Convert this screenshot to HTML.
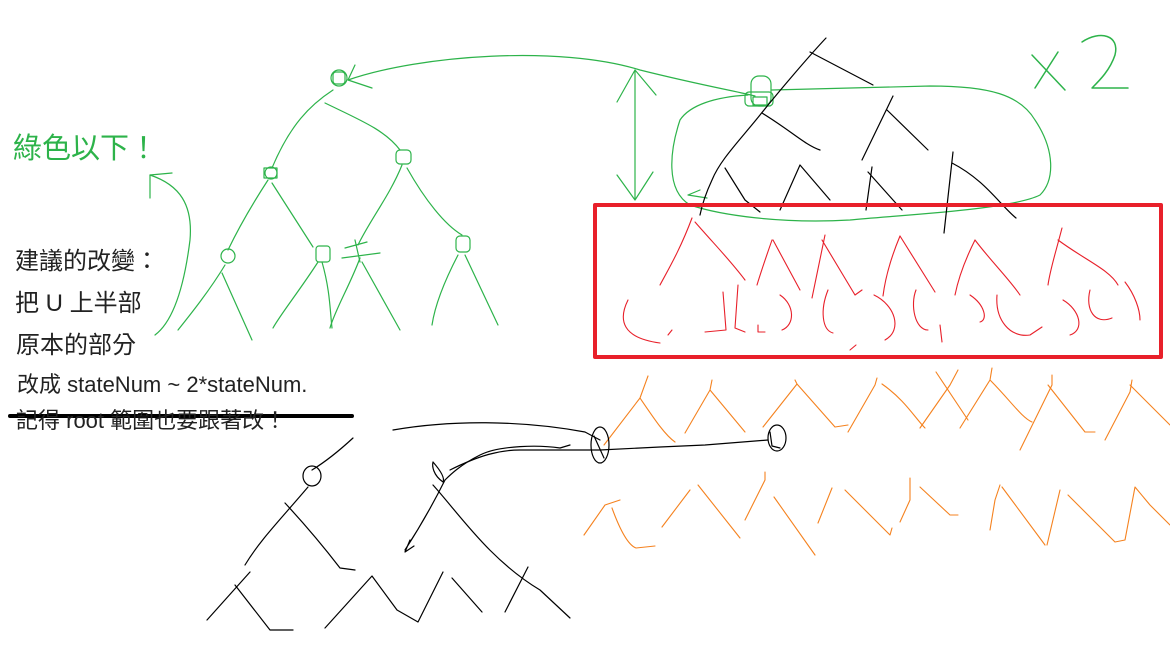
<!DOCTYPE html>
<html><head><meta charset="utf-8"><style>
html,body{margin:0;padding:0;background:#fff;width:1170px;height:649px;overflow:hidden}
.t{position:absolute;font-family:"Liberation Sans","Noto Sans CJK TC",sans-serif;color:#222;white-space:nowrap}
</style></head><body>
<svg width="1170" height="649" style="position:absolute;left:0;top:0" fill="none" stroke-linecap="round" stroke-linejoin="round">
<!-- green tree -->
<g stroke="#2db34a" stroke-width="1.2">
<circle cx="339" cy="78" r="8"/><rect x="333" y="72" width="12" height="12" rx="3"/>
<path d="M348,80 C420,55 560,45 640,70 C700,85 740,92 755,96"/>
<path d="M348,80 L355,65 M348,80 L372,88"/>
<path d="M333,90 C310,105 290,125 272,168"/>
<path d="M325,103 C360,120 385,130 400,150"/>
<circle cx="271" cy="173" r="6"/><rect x="264" y="168" width="13" height="10"/>
<rect x="396" y="150" width="15" height="14" rx="4"/>
<path d="M268,180 C255,200 240,225 228,250"/><path d="M272,183 L313,247"/>
<path d="M402,165 C390,195 370,220 358,245"/><path d="M407,168 C425,200 445,225 462,235"/>
<circle cx="228" cy="256" r="7"/>
<rect x="316" y="246" width="14" height="16" rx="3"/>
<path d="M345,248 L367,242 M355,240 L360,262 M342,258 L380,253"/>
<rect x="456" y="236" width="14" height="16" rx="4"/>
<path d="M225,265 C210,290 190,315 178,330 M222,273 L252,340"/>
<path d="M318,262 C300,290 280,315 273,328 M322,262 C330,290 330,310 332,328"/>
<path d="M360,258 C350,285 335,310 330,328 M362,262 L400,330"/>
<path d="M458,255 C445,280 435,305 432,325 M465,255 L498,325"/>
<!-- left arrow -->
<path d="M155,335 C175,320 185,280 190,240 C193,205 180,185 150,175"/>
<path d="M150,175 L150,198 M150,175 L172,173"/>
<!-- vertical double arrow -->
<path d="M635,70 L635,200 M635,70 L617,102 M635,70 L656,95 M635,200 L617,175 M635,200 L653,172"/>
<!-- node and loop -->
<rect x="751" y="76" width="20" height="30" rx="8"/><rect x="745" y="92" width="28" height="14" rx="4"/><rect x="753" y="97" width="14" height="8"/>
<path d="M772,90 L930,86 C990,86 1020,95 1035,120 C1055,150 1055,180 1040,195 C1010,210 900,215 850,220 C780,224 720,215 690,205 C665,190 670,150 680,120 C690,105 715,97 748,95"/>
<path d="M688,195 L707,198 M688,195 L700,190"/>
</g>
<!-- x2 -->
<g stroke="#2db34a" stroke-width="1.5">
<path d="M1032,55 L1065,90 M1058,52 L1035,88"/>
<path d="M1082,42 C1100,30 1120,35 1115,55 C1110,70 1100,80 1092,88 L1128,88"/>
</g>
<!-- black top tree -->
<g stroke="#000" stroke-width="1.2">
<path d="M826,38 C810,55 780,90 760,115 C740,140 720,160 712,180 C705,195 702,205 700,215"/>
<path d="M810,52 L873,85"/><path d="M762,113 C790,130 805,145 820,150"/>
<path d="M893,96 L862,160 M887,110 L928,150"/>
<path d="M725,168 L745,200 L760,212"/><path d="M800,165 L780,210 M800,165 L830,200"/>
<path d="M872,167 L866,210 M868,172 L902,210"/>
<path d="M953,152 L944,233 M952,163 C985,180 1000,205 1016,218"/>
</g>
<!-- red box -->
<rect x="595" y="205" width="566" height="152" stroke="#e8202a" stroke-width="4"/>
<g stroke="#e8202a" stroke-width="1.1">
<path d="M692,218 C680,250 668,270 660,285 M695,222 C715,245 730,260 745,280"/>
<path d="M772,240 C765,260 760,275 757,285 M773,240 L800,290"/>
<path d="M825,235 L812,298 M822,240 L855,295 L862,290"/>
<path d="M900,236 C890,260 885,280 883,296 M900,236 L935,292"/>
<path d="M975,240 C965,260 958,280 955,295 M975,240 C990,260 1010,280 1020,295"/>
<path d="M1062,228 C1055,255 1050,270 1048,285 M1058,240 C1085,260 1110,270 1118,285"/>
<path d="M628,300 C618,320 622,338 660,343 M672,330 L668,335"/>
<path d="M723,292 L726,330 L705,332 M738,285 L735,328 L745,332"/>
<path d="M780,295 C795,305 795,325 782,330 M758,325 L758,332 L765,332"/>
<path d="M828,290 C820,310 822,330 833,333 M856,345 L850,350"/>
<path d="M874,295 C895,305 903,330 885,340"/>
<path d="M916,290 C910,305 915,330 928,330 M940,325 L942,342"/>
<path d="M970,295 C985,305 988,320 980,322"/>
<path d="M997,295 C995,320 1010,338 1030,335 L1042,327"/>
<path d="M1063,300 C1080,310 1085,330 1070,335"/>
<path d="M1090,290 C1085,310 1095,325 1112,318 M1125,282 C1135,295 1140,310 1140,320"/>
</g>
<!-- orange rows -->
<g stroke="#f5821f" stroke-width="1.1">
<path d="M604,445 L640,398 L648,376 M640,398 C655,420 665,435 675,442"/>
<path d="M685,433 L710,390 L712,380 M710,390 L745,432"/>
<path d="M763,427 L797,384 L795,380 M797,384 L835,427 L848,425"/>
<path d="M848,432 L875,385 L877,378 M882,384 C905,400 915,418 925,428"/>
<path d="M920,428 L950,385 L958,370 M936,372 L968,420"/>
<path d="M960,428 L990,380 L992,368 M990,380 C1010,400 1022,418 1032,422"/>
<path d="M1020,450 L1052,385 L1052,375 M1048,385 L1085,432 L1095,432"/>
<path d="M1105,440 L1130,392 L1132,380 M1130,385 L1170,425"/>
<path d="M584,535 L605,505 L620,500 M612,508 C620,530 628,545 636,548 L655,546"/>
<path d="M662,527 L690,490 M698,485 L740,538"/>
<path d="M745,520 L765,480 L765,472 M774,497 L815,555 M818,523 L832,488"/>
<path d="M845,490 L890,535 L892,528 M900,522 L910,500 L910,478 M920,487 L950,515 L958,515"/>
<path d="M990,530 L995,500 L1000,485 M1002,487 L1045,545 M1047,545 L1060,490 M1068,495 L1115,542 L1125,540 L1135,487 L1150,505 L1170,525"/>
</g>
<!-- black bottom -->
<g stroke="#000" stroke-width="1.2">
<path d="M393,430 C450,420 520,420 585,432 L600,440"/>
<ellipse cx="600" cy="445" rx="9" ry="18"/><path d="M594,436 L604,458"/>
<path d="M450,470 C480,455 500,450 520,450 L600,450 L660,447 L705,445 L768,440"/>
<ellipse cx="777" cy="438" rx="9" ry="13"/><path d="M770,432 L772,446 L780,448"/>
<path d="M570,445 L560,448 C540,445 500,445 480,455 C460,465 450,475 445,480"/>
<path d="M312,470 C325,462 340,450 353,438"/>
<ellipse cx="312" cy="476" rx="9" ry="10"/>
<path d="M308,487 C280,520 260,540 245,565 M285,503 C310,530 330,555 340,568 L355,570"/>
<path d="M433,462 C440,470 445,478 443,482 C433,475 432,466 433,462"/>
<path d="M445,480 C430,510 418,530 405,550 M410,540 L405,552 L414,546"/>
<path d="M433,485 C460,515 490,560 540,590 L570,618"/>
<path d="M250,572 L207,620 M235,585 L270,630 L293,630"/>
<path d="M325,628 L372,576 L397,610 L418,622 L443,572"/>
<path d="M452,578 L482,612 M505,612 L528,567"/>
</g>
<!-- strike -->
<path d="M10,416 L352,416" stroke="#000" stroke-width="4"/>
</svg>
<div class="t" style="left:13px;top:125px;font-size:29px;color:#2db34a">綠色以下！</div>
<div class="t" style="left:15px;top:241px;font-size:24px">建議的改變：</div>
<div class="t" style="left:15px;top:283px;font-size:24px">把 U 上半部</div>
<div class="t" style="left:16px;top:325px;font-size:24px">原本的部分</div>
<div class="t" style="left:17px;top:367px;font-size:22px">改成 stateNum ~ 2*stateNum.</div>
<div class="t" style="left:16px;top:403px;font-size:22px">記得 root 範圍也要跟著改！</div>
</body></html>
